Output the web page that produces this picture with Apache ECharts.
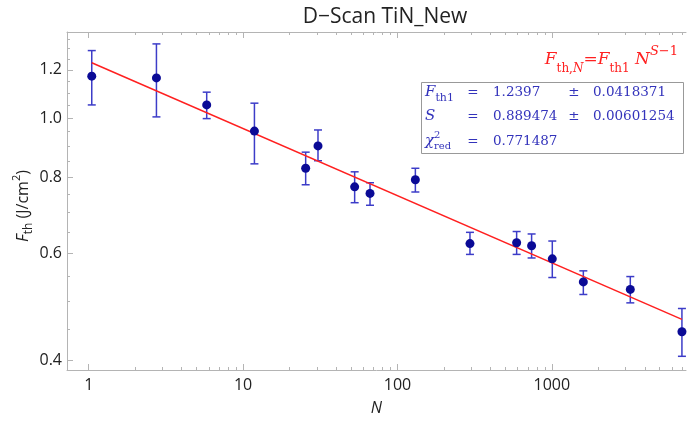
<!DOCTYPE html>
<html>
<head>
<meta charset="utf-8">
<script src="https://cdn.jsdelivr.net/npm/echarts@6/dist/echarts.min.js"></script>
<style>
html, body { margin: 0; padding: 0; background: #fff; }
#chart { width: 687px; height: 423px; }
</style>
</head>
<body>
<div id="chart"></div>
<script>
// measured points (N, F_th) with error bar ends
var nValues   = [1.046, 2.745, 5.81, 11.84, 25.43, 30.56, 52.8, 66.4, 130.6, 294.9, 591.6, 739.6, 1007, 1600, 3224, 6964];
var fthValues = [1.172, 1.164, 1.051, 0.952, 0.827, 0.900, 0.771, 0.752, 0.792, 0.622, 0.624, 0.617, 0.587, 0.538, 0.523, 0.4456];
var errLow    = [1.051, 1.0045, 0.998, 0.841, 0.777, 0.851, 0.726, 0.719, 0.756, 0.597, 0.597, 0.589, 0.547, 0.513, 0.497, 0.406];
var errHigh   = [1.291, 1.324, 1.103, 1.058, 0.879, 0.956, 0.816, 0.783, 0.827, 0.649, 0.651, 0.645, 0.628, 0.561, 0.549, 0.4865];

// fit line end points
var fitN = [1.046, 6964];
var fitF = [1.233, 0.467];

// ticks
var xMajorTicks = [1, 10, 100, 1000];
var xMinorTicks = [2, 3, 4, 5, 6, 7, 8, 9, 20, 30, 40, 50, 60, 70, 80, 90,
                   200, 300, 400, 500, 600, 700, 800, 900, 2000, 3000, 4000, 5000, 6000, 7000];
var yMajorTicks = [0.4, 0.6, 0.8, 1.0, 1.2];
var yMinorTicks = [0.45, 0.5, 0.55, 0.65, 0.7, 0.75, 0.85, 0.9, 0.95, 1.05, 1.1, 1.15, 1.25, 1.3, 1.35];

var xMin = 0.723, xMax = 7400;
var yMin = 0.3855, yMax = 1.385;

var frameColor = '#b4b4b4';
var pointColor = '#0a0a96';
var errColor = '#3c3cc8';
var fitColor = '#ff2020';
var boxColor = '#3333bb';
var sans = '"Open Sans", sans-serif';
var serif = '"DejaVu Serif", serif';
var boxFont = '13.5px ' + serif;

var points = nValues.map(function (n, i) { return [n, fthValues[i]]; });
var bars = nValues.map(function (n, i) { return [n, errLow[i], errHigh[i]]; });
var fit = fitN.map(function (n, i) { return [n, fitF[i]]; });

function tickAxis(pos, ticks, len, lineShow, min, max) {
    return {
        type: 'log', position: pos, min: min, max: max,
        axisLine: { show: lineShow, onZero: false, lineStyle: { color: frameColor, width: 1 } },
        axisTick: { show: true, inside: true, length: len, customValues: ticks,
                    lineStyle: { color: frameColor, width: 1 } },
        axisLabel: { show: false },
        splitLine: { show: false }
    };
}

var xMain = tickAxis('bottom', xMajorTicks, 6, true, xMin, xMax);
xMain.axisLabel = {
    show: true, customValues: xMajorTicks, margin: 7,
    fontFamily: sans, fontSize: 16, color: '#222',
    formatter: function (v) { return String(v); }
};
xMain.name = 'N';
xMain.nameLocation = 'middle';
xMain.nameGap = 30;
xMain.nameTextStyle = { fontFamily: sans, fontStyle: 'italic', fontSize: 16, color: '#222' };

var yMain = tickAxis('left', yMajorTicks, 6, true, yMin, yMax);
yMain.axisLabel = {
    show: true, customValues: yMajorTicks, margin: 5,
    fontFamily: sans, fontSize: 16, color: '#222',
    formatter: function (v) { return v.toFixed(1); }
};

function boxText(x, y, txt, align) {
    return { type: 'text', x: x, y: y, z: 11,
             style: { text: txt, align: align || 'left', verticalAlign: 'middle', font: boxFont, fill: boxColor } };
}

var chart = echarts.init(document.getElementById('chart'));

chart.setOption({
    animation: false,
    title: {
        text: 'D\u2212Scan TiN_New',
        left: 380, top: 2, textAlign: 'center',
        textStyle: { fontFamily: sans, fontSize: 21, fontWeight: 'normal', color: '#222' }
    },
    grid: { left: 67, right: 1, top: 32, bottom: 53, containLabel: false },
    xAxis: [
        xMain,
        tickAxis('bottom', xMinorTicks, 3, false, xMin, xMax),
        tickAxis('top', xMajorTicks, 6, true, xMin, xMax),
        tickAxis('top', xMinorTicks, 3, false, xMin, xMax)
    ],
    yAxis: [
        yMain,
        tickAxis('left', yMinorTicks, 3, false, yMin, yMax)
    ],
    series: [
        {
            type: 'custom',
            xAxisIndex: 0, yAxisIndex: 0,
            encode: { x: 0, y: [1, 2] },
            data: bars,
            z: 2,
            renderItem: function (params, api) {
                var x = api.value(0);
                var lo = api.coord([x, api.value(1)]);
                var hi = api.coord([x, api.value(2)]);
                var cap = 4;
                var st = { stroke: errColor, lineWidth: 1.5 };
                return {
                    type: 'group',
                    children: [
                        { type: 'line', shape: { x1: lo[0], y1: lo[1], x2: hi[0], y2: hi[1] }, style: st },
                        { type: 'line', shape: { x1: lo[0] - cap, y1: lo[1], x2: lo[0] + cap, y2: lo[1] }, style: st },
                        { type: 'line', shape: { x1: hi[0] - cap, y1: hi[1], x2: hi[0] + cap, y2: hi[1] }, style: st }
                    ]
                };
            }
        },
        {
            type: 'line',
            xAxisIndex: 0, yAxisIndex: 0,
            data: fit,
            showSymbol: false,
            z: 3,
            lineStyle: { color: fitColor, width: 1.5 }
        },
        {
            type: 'scatter',
            xAxisIndex: 0, yAxisIndex: 0,
            data: points,
            symbolSize: 9,
            z: 4,
            itemStyle: { color: pointColor, opacity: 1 }
        }
    ],
    graphic: [
        // y axis title
        {
            type: 'text', x: 23, y: 206, rotation: Math.PI / 2,
            style: {
                text: '{i|F}{sb|th}{n| (J/cm}{sp|2}{n|)}',
                align: 'center', verticalAlign: 'middle',
                rich: {
                    i: { fontFamily: sans, fontStyle: 'italic', fontSize: 16, fill: '#222', lineHeight: 24 },
                    n: { fontFamily: sans, fontSize: 16, fill: '#222', lineHeight: 24 },
                    sb: { fontFamily: sans, fontSize: 12, fill: '#222', verticalAlign: 'bottom', lineHeight: 16 },
                    sp: { fontFamily: sans, fontSize: 11, fill: '#222', verticalAlign: 'top', lineHeight: 10 }
                }
            }
        },
        // fit formula
        {
            type: 'text', right: 9, top: 45,
            style: {
                text: '{i|F}{sb|th,}{sbi|N}{n|=}{i|F}{sb|th1}{n| }{i|N}{spi|S}{sp|\u22121}',
                rich: {
                    i: { fontFamily: serif, fontStyle: 'italic', fontSize: 17, fill: fitColor, lineHeight: 30 },
                    n: { fontFamily: serif, fontSize: 17, fill: fitColor, lineHeight: 30 },
                    sb: { fontFamily: serif, fontSize: 12, fill: fitColor, verticalAlign: 'bottom', lineHeight: 20 },
                    sbi: { fontFamily: serif, fontStyle: 'italic', fontSize: 12, fill: fitColor, verticalAlign: 'bottom', lineHeight: 20 },
                    sp: { fontFamily: serif, fontSize: 13, fill: fitColor, verticalAlign: 'top', lineHeight: 11 },
                    spi: { fontFamily: serif, fontStyle: 'italic', fontSize: 13, fill: fitColor, verticalAlign: 'top', lineHeight: 11 }
                }
            }
        },
        // parameter box
        {
            type: 'rect', shape: { x: 421.5, y: 82.5, width: 262, height: 71 },
            style: { fill: '#fff', stroke: '#999', lineWidth: 1 }, z: 10
        },
        {
            type: 'text', x: 425, y: 92, z: 11,
            style: {
                text: '{i|F}{sb|th1}', verticalAlign: 'middle',
                rich: {
                    i: { fontFamily: serif, fontStyle: 'italic', fontSize: 15, fill: boxColor, lineHeight: 24 },
                    sb: { fontFamily: serif, fontSize: 11, fill: boxColor, verticalAlign: 'bottom', lineHeight: 16 }
                }
            }
        },
        { type: 'text', x: 425, y: 116.5, z: 11,
          style: { text: 'S', verticalAlign: 'middle', font: 'italic 15px ' + serif, fill: boxColor } },
        { type: 'text', x: 425, y: 141, z: 11,
          style: { text: '\u03c7', verticalAlign: 'middle', font: 'italic 15px ' + serif, fill: boxColor } },
        { type: 'text', x: 434, y: 135, z: 11,
          style: { text: '2', verticalAlign: 'middle', font: '10px ' + serif, fill: boxColor } },
        { type: 'text', x: 434, y: 146, z: 11,
          style: { text: 'red', verticalAlign: 'middle', font: '10px ' + serif, fill: boxColor } },
        boxText(473, 92, '=', 'center'),
        boxText(473, 116.5, '=', 'center'),
        boxText(473, 141, '=', 'center'),
        boxText(493, 92, '1.2397'),
        boxText(493, 116.5, '0.889474'),
        boxText(493, 141, '0.771487'),
        boxText(574, 92, '\u00b1', 'center'),
        boxText(574, 116.5, '\u00b1', 'center'),
        boxText(593, 92, '0.0418371'),
        boxText(593, 116.5, '0.00601254')
    ]
});
</script>
</body>
</html>
